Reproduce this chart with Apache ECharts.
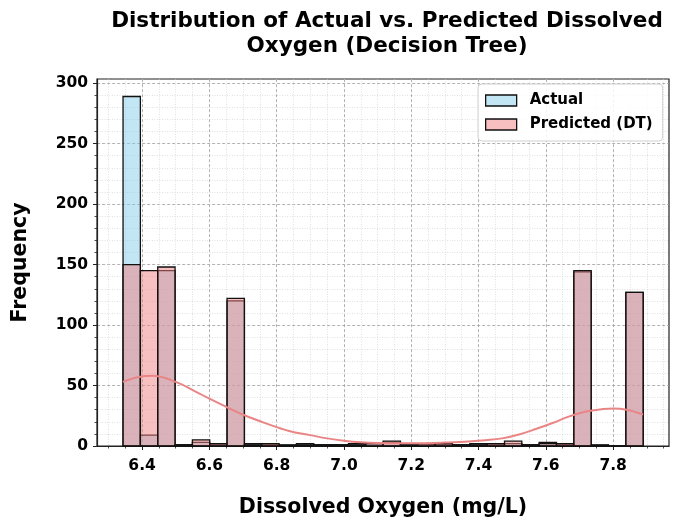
<!DOCTYPE html>
<html>
<head>
<meta charset="utf-8">
<script src="https://cdn.jsdelivr.net/npm/echarts@6/dist/echarts.min.js"></script>
<style>
  html, body { margin: 0; padding: 0; background: #fff; }
  #chart { width: 678px; height: 529px; }
</style>
</head>
<body>
<div id="chart"></div>
<script>
// histogram bins (30 bins, seaborn style)
var binStart = 6.3434;
var binWidth = 0.05153;
var actualCounts = [289, 9, 145, 1, 3, 1, 120, 2, 1, 1,
                    2, 1, 1, 2, 2, 3, 2, 1, 1, 1,
                    2, 1, 2, 1, 3, 1, 144, 1, 0, 127];
var predCounts   = [150, 145, 148, 1, 5, 2, 122, 1, 2, 0,
                    1, 1, 1, 1, 2, 4, 1, 2, 2, 1,
                    1, 2, 4, 1, 2, 2, 145, 0, 0, 127];
// kde curve of the predicted values
var kdeX = [6.343, 6.39, 6.43, 6.5, 6.569, 6.638, 6.703, 6.768, 6.837, 6.9,
            6.95, 7.0, 7.05, 7.1, 7.2, 7.3, 7.37, 7.42, 7.47, 7.52,
            7.57, 7.62, 7.67, 7.72, 7.77, 7.8, 7.84, 7.889];
var kdeY = [53, 57, 58, 53, 43.5, 34, 25.6, 18.7, 12.4, 9,
            6.3, 4.3, 3, 2.4, 2.2, 2.8, 3.8, 4.8, 6.3, 9.5,
            14, 19, 24.5, 28.5, 30.5, 31, 30, 26];
var xTicks = [6.4, 6.6, 6.8, 7.0, 7.2, 7.4, 7.6, 7.8];
var yTicks = [0, 50, 100, 150, 200, 250, 300];
var xMin = 6.266, xMax = 7.966;
var yMin = 0, yMax = 303.45;

var xMinor = [];
for (var v = 6.3; v < xMax; v += 0.05) xMinor.push(+v.toFixed(2));
var yMinor = [];
for (var w = 10; w <= 300; w += 10) yMinor.push(w);

var FONT = 'DejaVu Sans';
var blue = 'rgba(135,206,235,0.5)';
var red = 'rgba(240,128,128,0.5)';

function histData(counts) {
  return counts.map(function (c, i) {
    return [binStart + i * binWidth, binStart + (i + 1) * binWidth, c];
  });
}

function histRender(fill) {
  return function (params, api) {
    var p0 = api.coord([api.value(0), 0]);
    var p1 = api.coord([api.value(1), api.value(2)]);
    return {
      type: 'rect',
      shape: { x: p0[0], y: p1[1], width: p1[0] - p0[0], height: p0[1] - p1[1] },
      style: { fill: fill, stroke: '#111', lineWidth: 1.3 }
    };
  };
}

var chart = echarts.init(document.getElementById('chart'));
chart.setOption({
  animation: false,
  title: {
    text: 'Distribution of Actual vs. Predicted Dissolved\nOxygen (Decision Tree)',
    left: 382,
    top: 4,
    textAlign: 'center',
    textStyle: { fontFamily: FONT, fontWeight: 'bold', fontSize: 21.5, lineHeight: 25, color: '#000' }
  },
  legend: {
    orient: 'vertical',
    left: 478,
    top: 84,
    padding: [9, 10, 9, 7],
    backgroundColor: 'rgba(255,255,255,0.85)',
    borderColor: '#d0d0d0',
    borderWidth: 1,
    borderRadius: 4,
    itemWidth: 31,
    itemHeight: 11,
    itemGap: 9,
    textStyle: { fontFamily: FONT, fontWeight: 'bold', fontSize: 15, color: '#000', padding: [0, 0, 0, 8] },
    data: [
      { name: 'Actual', icon: 'rect', itemStyle: { color: blue, borderColor: '#111', borderWidth: 1.3 } },
      { name: 'Predicted (DT)', icon: 'rect', itemStyle: { color: red, borderColor: '#111', borderWidth: 1.3 } }
    ]
  },
  grid: {
    left: 97, right: 9, top: 79, bottom: 83,
    show: true, borderColor: '#222', borderWidth: 1.2, backgroundColor: 'transparent'
  },
  xAxis: [{
    type: 'value', min: xMin, max: xMax, position: 'bottom',
    name: 'Dissolved Oxygen (mg/L)', nameLocation: 'middle', nameGap: 51,
    nameTextStyle: { fontFamily: FONT, fontWeight: 'bold', fontSize: 20.5, color: '#000' },
    axisLine: { lineStyle: { color: '#222', width: 1.2 } },
    axisTick: { customValues: xTicks, length: 4, lineStyle: { color: '#222' } },
    axisLabel: {
      customValues: xTicks, margin: 12, color: '#000',
      fontFamily: FONT, fontWeight: 'bold', fontSize: 15.5,
      formatter: function (v) { return v.toFixed(1); }
    },
    splitLine: { show: true, lineStyle: { color: '#999', type: [3, 2], width: 0.8 } }
  }, {
    type: 'value', min: xMin, max: xMax, position: 'bottom',
    axisLine: { show: false },
    axisTick: { customValues: xMinor, length: 2.5, lineStyle: { color: '#222', width: 0.8 } },
    axisLabel: { show: false },
    splitLine: { show: true, lineStyle: { color: '#ccc', type: [1, 1.5], width: 0.6 } }
  }],
  yAxis: [{
    type: 'value', min: yMin, max: yMax, position: 'left',
    name: 'Frequency', nameLocation: 'middle', nameGap: 66,
    nameTextStyle: { fontFamily: FONT, fontWeight: 'bold', fontSize: 20.5, color: '#000' },
    axisLine: { show: true, lineStyle: { color: '#222', width: 1.2 } },
    axisTick: { show: true, customValues: yTicks, length: 4, lineStyle: { color: '#222' } },
    axisLabel: {
      customValues: yTicks, margin: 9, color: '#000',
      fontFamily: FONT, fontWeight: 'bold', fontSize: 15.5
    },
    splitLine: { show: true, lineStyle: { color: '#999', type: [3, 2], width: 0.8 } }
  }, {
    type: 'value', min: yMin, max: yMax, position: 'left',
    axisLine: { show: false },
    axisTick: { show: true, customValues: yMinor, length: 2.5, lineStyle: { color: '#222', width: 0.8 } },
    axisLabel: { show: false },
    splitLine: { show: true, lineStyle: { color: '#ccc', type: [1, 1.5], width: 0.6 } }
  }],
  series: [{
    name: 'Actual', type: 'custom', xAxisIndex: 0, yAxisIndex: 0,
    renderItem: histRender(blue), encode: { x: [0, 1], y: 2 },
    itemStyle: { color: blue }, data: histData(actualCounts), z: 3
  }, {
    name: 'Predicted (DT)', type: 'custom', xAxisIndex: 0, yAxisIndex: 0,
    renderItem: histRender(red), encode: { x: [0, 1], y: 2 },
    itemStyle: { color: red }, data: histData(predCounts), z: 4
  }, {
    name: 'KDE', type: 'line', xAxisIndex: 0, yAxisIndex: 0,
    data: kdeX.map(function (x, i) { return [x, kdeY[i]]; }),
    smooth: 0.4, showSymbol: false, z: 5,
    lineStyle: { color: '#ea8585', width: 2 }
  }]
});
</script>
</body>
</html>
